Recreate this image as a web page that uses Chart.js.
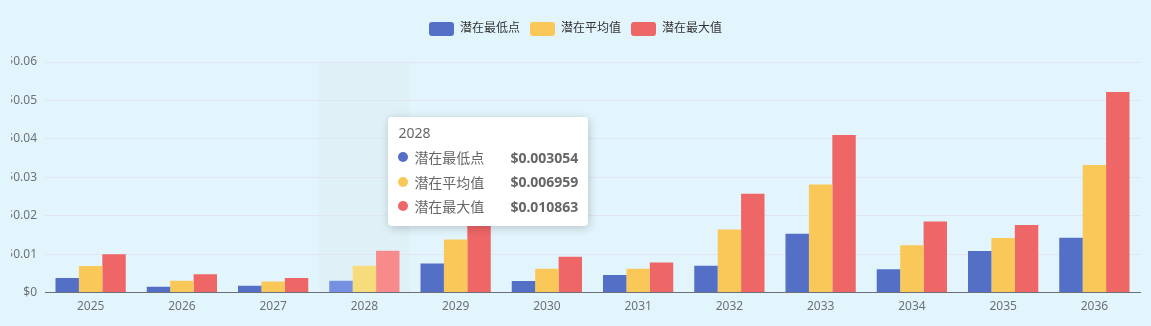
<!DOCTYPE html>
<html>
<head>
<meta charset="utf-8">
<script src="https://cdn.jsdelivr.net/npm/chart.js@4"></script>
<style>
  html, body { margin: 0; padding: 0; background: #e3f5fc; overflow: hidden; }
  #wrap { position: relative; width: 1151px; height: 326px; overflow: hidden; }
  #chart { position: absolute; left: 11px; top: 0; }
  #tip {
    position: absolute; background: #fff; border-radius: 4px;
    box-shadow: 1px 2px 10px rgba(0,0,0,0.2);
    padding: 6px 10px 7px 10px; font-family: 'Noto Sans', 'Noto Sans CJK SC', sans-serif;
    color: #666; font-size: 14px; display: none; pointer-events: none;
  }
  #tip .t { line-height: 20px; margin-bottom: 2px; }
  #tip .r { display: flex; align-items: center; height: 24.5px; }
  #tip .d { width: 10px; height: 10px; border-radius: 5px; margin-right: 6px; }
  #tip .v { margin-left: auto; padding-left: 26px; font-weight: bold; }
</style>
</head>
<body>
<div id="wrap">
  <canvas id="chart"></canvas>
  <div id="tip"></div>
</div>
<script>
let years = ['2025', '2026', '2027', '2028', '2029', '2030', '2031', '2032', '2033', '2034', '2035', '2036'];
let seriesNames = ['潜在最低点', '潜在平均值', '潜在最大值'];

let lowValues = [0.0038, 0.0015, 0.0018, 0.003054, 0.0076, 0.0030, 0.0046, 0.0070, 0.0153, 0.0061, 0.0108, 0.0143];
let avgValues = [0.0069, 0.0031, 0.0029, 0.006959, 0.0138, 0.0062, 0.0062, 0.0164, 0.0281, 0.0123, 0.0142, 0.0332];
let maxValues = [0.0100, 0.0048, 0.0038, 0.010863, 0.0200, 0.0093, 0.0078, 0.0257, 0.0410, 0.0185, 0.0176, 0.0522];

let yTicks = [0, 0.01, 0.02, 0.03, 0.04, 0.05, 0.06];

const COLORS = ['#5470c6', '#fac858', '#ee6666'];
const HOVER_COLORS = ['#7590e0', '#f7dc7c', '#f78a8a'];
const FONT = "'Noto Sans', 'Noto Sans CJK SC', sans-serif";
const hoverIndex = 3;
const CANVAS_LEFT = 11;

function money(v) {
    return v === 0 ? '$0' : '$' + v.toFixed(2);
}

// faint band behind the hovered category, like an axis pointer
const shadowPlugin = {
    id: 'shadowBand',
    beforeDraw(chart) {
        const active = chart.getActiveElements();
        if (!active.length) return;
        const area = chart.chartArea;
        const w = (area.right - area.left) / years.length;
        const cx = chart.scales.x.getPixelForValue(active[0].index);
        const ctx = chart.ctx;
        ctx.save();
        ctx.fillStyle = 'rgba(150,150,150,0.05)';
        ctx.fillRect(cx - w / 2, area.top, w, area.bottom - area.top);
        ctx.restore();
    }
};

// extra space between legend and plot
const legendGap = {
    id: 'legendGap',
    beforeUpdate(chart) {
        const legend = chart.legend;
        if (!legend || legend._gapPatched) return;
        const fit = legend.fit;
        legend.fit = function() {
            fit.call(this);
            this.height += 16;
        };
        legend._gapPatched = true;
    }
};

function externalTip(context) {
    const tip = document.getElementById('tip');
    const model = context.tooltip;
    if (model.opacity === 0 || !model.dataPoints || !model.dataPoints.length) {
        tip.style.display = 'none';
        return;
    }
    const idx = model.dataPoints[0].dataIndex;
    let html = '<div class="t">' + years[idx] + '</div>';
    model.dataPoints.forEach(function(p) {
        html += '<div class="r"><span class="d" style="background:' + COLORS[p.datasetIndex] + '"></span>' +
            '<span>' + seriesNames[p.datasetIndex] + '</span>' +
            '<span class="v">$' + p.raw.toFixed(6) + '</span></div>';
    });
    tip.innerHTML = html;
    tip.style.display = 'block';
    const cx = context.chart.scales.x.getPixelForValue(idx) + CANVAS_LEFT;
    tip.style.left = (cx + 24) + 'px';
    tip.style.top = '117px';
}

const chartElement = document.getElementById('chart');
chartElement.width = 1151 - CANVAS_LEFT;
chartElement.height = 326;

const datasetValues = [lowValues, avgValues, maxValues];

let myChart = new Chart(chartElement, {
    type: 'bar',
    data: {
        labels: years,
        datasets: datasetValues.map(function(vals, i) {
            return {
                label: seriesNames[i],
                data: vals,
                backgroundColor: COLORS[i],
                hoverBackgroundColor: HOVER_COLORS[i],
                borderWidth: 0,
                categoryPercentage: 0.77,
                barPercentage: 1
            };
        })
    },
    plugins: [shadowPlugin, legendGap],
    options: {
        responsive: false,
        animation: false,
        devicePixelRatio: 1,
        interaction: { mode: 'index', intersect: false },
        layout: { padding: { top: 12, right: 11, bottom: 5, left: 0 } },
        plugins: {
            legend: {
                position: 'top',
                labels: {
                    boxWidth: 25,
                    boxHeight: 14,
                    useBorderRadius: true,
                    borderRadius: 3,
                    padding: 10,
                    color: '#333',
                    font: { family: FONT, size: 12 }
                }
            },
            tooltip: {
                enabled: false,
                external: externalTip
            }
        },
        scales: {
            x: {
                grid: { display: false, drawTicks: false },
                border: { display: true, color: '#6e7079', width: 1 },
                ticks: { color: '#6e7079', padding: 7, font: { family: FONT, size: 12 } }
            },
            y: {
                min: 0,
                max: 0.06,
                afterFit: function(scale) { scale.width = 45 - CANVAS_LEFT; },
                afterBuildTicks: function(scale) {
                    scale.ticks = yTicks.map(function(v) { return { value: v }; });
                },
                grid: { color: '#e0e6f1', drawTicks: false },
                border: { display: false },
                ticks: {
                    color: '#6e7079',
                    padding: 8,
                    font: { family: FONT, size: 12 },
                    callback: function(v) { return money(v); }
                }
            }
        }
    }
});

const active = [0, 1, 2].map(function(d) { return { datasetIndex: d, index: hoverIndex }; });
myChart.setActiveElements(active);
myChart.tooltip.setActiveElements(active, { x: 370, y: 100 });
myChart.update();
</script>
</body>
</html>
